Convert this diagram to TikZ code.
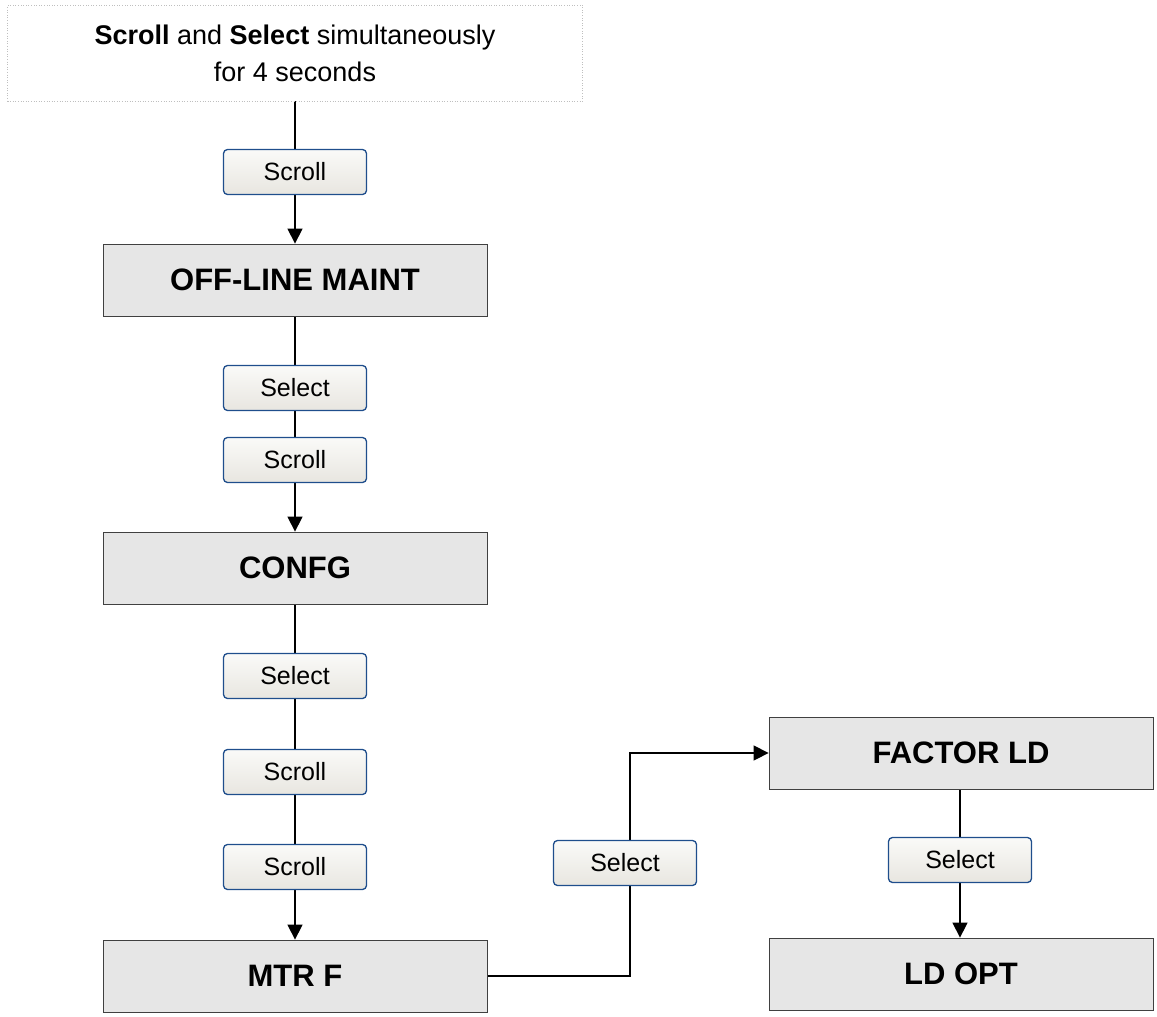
\documentclass[tikz,border=0pt]{standalone}
\usepackage{fontspec}
\setmainfont{Liberation Sans}
\usetikzlibrary{arrows.meta,backgrounds}
\definecolor{btnborder}{HTML}{1F4E8C}
\definecolor{boxfill}{HTML}{E6E6E6}
\definecolor{btntop}{HTML}{FAFAF8}
\definecolor{btnbot}{HTML}{E8E6E0}
\begin{document}
\begin{tikzpicture}[x=1pt,y=-1pt,
  menubox/.style={draw=black!75,line width=0.8pt,fill=boxfill,minimum width=384pt,minimum height=72pt,inner sep=0pt,font=\fontsize{31}{36}\selectfont\bfseries},
  btn/.style={draw=btnborder,line width=1.3pt,rounded corners=4pt,top color=btntop,bottom color=btnbot,minimum width=143pt,minimum height=45pt,inner sep=0pt,font=\fontsize{25}{30}\selectfont},
  conn/.style={line width=1.3pt},
  arr/.style={line width=1.3pt,-{Triangle[length=15pt,width=15pt]}}
]
\useasboundingbox (0,0) rectangle (1157,1017);
\node[draw=black!25,dotted,line width=0.6pt,fill=white,minimum width=575pt,minimum height=96pt,inner sep=0pt,align=center,font=\fontsize{27}{37}\selectfont] (start) at (295,53) {\textbf{Scroll} and \textbf{Select} simultaneously\\for 4 seconds};
\node[btn] (b1) at (295,172) {Scroll};
\node[menubox] (offline) at (295,280) {OFF-LINE MAINT};
\node[btn] (b2) at (295,388) {Select};
\node[btn] (b3) at (295,460) {Scroll};
\node[menubox] (confg) at (295,568) {CONFG};
\node[btn] (b4) at (295,676) {Select};
\node[btn] (b5) at (295,772) {Scroll};
\node[btn] (b6) at (295,867) {Scroll};
\node[menubox] (mtrf) at (295,976) {MTR F};
\node[btn] (b7) at (625,863) {Select};
\node[menubox] (factor) at (961,753) {FACTOR LD};
\node[btn] (b8) at (960,860) {Select};
\node[menubox] (ldopt) at (961,974) {LD OPT};
\coordinate (c1) at (630,976);
\coordinate (c2) at (630,753);
\begin{scope}[on background layer]
\draw[conn] (start.south) -- (b1.north);
\draw[arr] (b1.south) -- (offline.north);
\draw[conn] (offline.south) -- (b2.north);
\draw[conn] (b2.south) -- (b3.north);
\draw[arr] (b3.south) -- (confg.north);
\draw[conn] (confg.south) -- (b4.north);
\draw[conn] (b4.south) -- (b5.north);
\draw[conn] (b5.south) -- (b6.north);
\draw[arr] (b6.south) -- (mtrf.north);
\draw[arr] (mtrf.east) -- (c1) -- (c2) -- (factor.west);
\draw[conn] (factor.south -| b8) -- (b8.north);
\draw[arr] (b8.south) -- (ldopt.north -| b8);
\end{scope}
\end{tikzpicture}
\end{document}
